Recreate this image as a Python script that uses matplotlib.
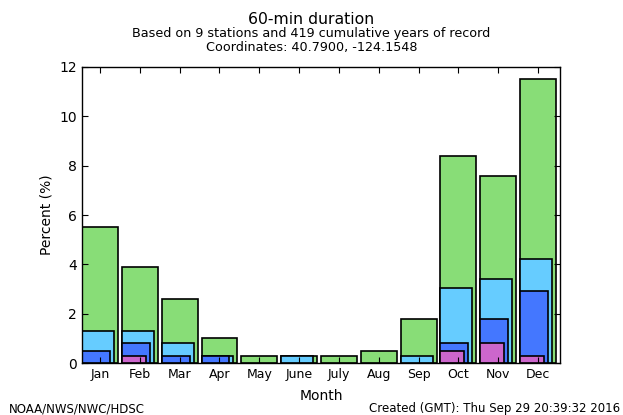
import numpy as np
import matplotlib
matplotlib.use("Agg")
import matplotlib.pyplot as plt

# monthly share of annual-maximum exceedances, one array per overlaid level
months = ["Jan", "Feb", "Mar", "Apr", "May", "June", "July", "Aug", "Sep", "Oct", "Nov", "Dec"]
level_1 = [5.5, 3.9, 2.6, 1.0, 0.3, 0.3, 0.3, 0.5, 1.8, 8.4, 7.6, 11.5]
level_2 = [1.3, 1.3, 0.8, 0.3, 0.0, 0.3, 0.0, 0.0, 0.3, 3.05, 3.4, 4.2]
level_3 = [0.5, 0.8, 0.3, 0.3, 0.0, 0.0, 0.0, 0.0, 0.0, 0.8, 1.8, 2.9]
level_4 = [0.0, 0.3, 0.0, 0.0, 0.0, 0.0, 0.0, 0.0, 0.0, 0.5, 0.8, 0.3]

fig = plt.figure(figsize=(6.23, 4.15), dpi=100)
ax = fig.add_axes([82 / 623, 1 - 363 / 415, 478 / 623, 296 / 415])

x = np.arange(len(months))
series = [
    (level_1, 0.9, "#88dd77"),
    (level_2, 0.8, "#66ccff"),
    (level_3, 0.7, "#4477ff"),
    (level_4, 0.6, "#cc66cc"),
]
for vals, w, col in series:
    v = np.array(vals)
    keep = v > 0
    ax.bar(x[keep], v[keep], width=w, align="edge", color=col,
           edgecolor="black", linewidth=1.2)

ax.set_xlim(0, 12)
ax.set_ylim(0, 12)
ax.set_xticks(x + 0.45)
ax.set_xticklabels(months, fontsize=9)
ax.set_yticks(np.arange(0, 13, 2))
ax.tick_params(axis="y", labelsize=10)
ax.tick_params(direction="in", top=True, right=True, length=4, width=0.8)
for s in ax.spines.values():
    s.set_linewidth(1.0)

ax.set_xlabel("Month", fontsize=10, labelpad=6)
ax.set_ylabel("Percent (%)", fontsize=10)

fig.text(0.5, 1 - 19 / 415, "60-min duration", ha="center", va="center", fontsize=11.3)
fig.text(0.5, 1 - 34 / 415, "Based on 9 stations and 419 cumulative years of record",
         ha="center", va="center", fontsize=9.2)
fig.text(0.5, 1 - 47 / 415, "Coordinates: 40.7900, -124.1548",
         ha="center", va="center", fontsize=9.2)
fig.text(9 / 623, 1 - 409 / 415, "NOAA/NWS/NWC/HDSC", ha="left", va="center", fontsize=8.5)
fig.text(620 / 623, 1 - 408 / 415, "Created (GMT): Thu Sep 29 20:39:32 2016",
         ha="right", va="center", fontsize=8.5)

fig.savefig("out.png", dpi=100)
